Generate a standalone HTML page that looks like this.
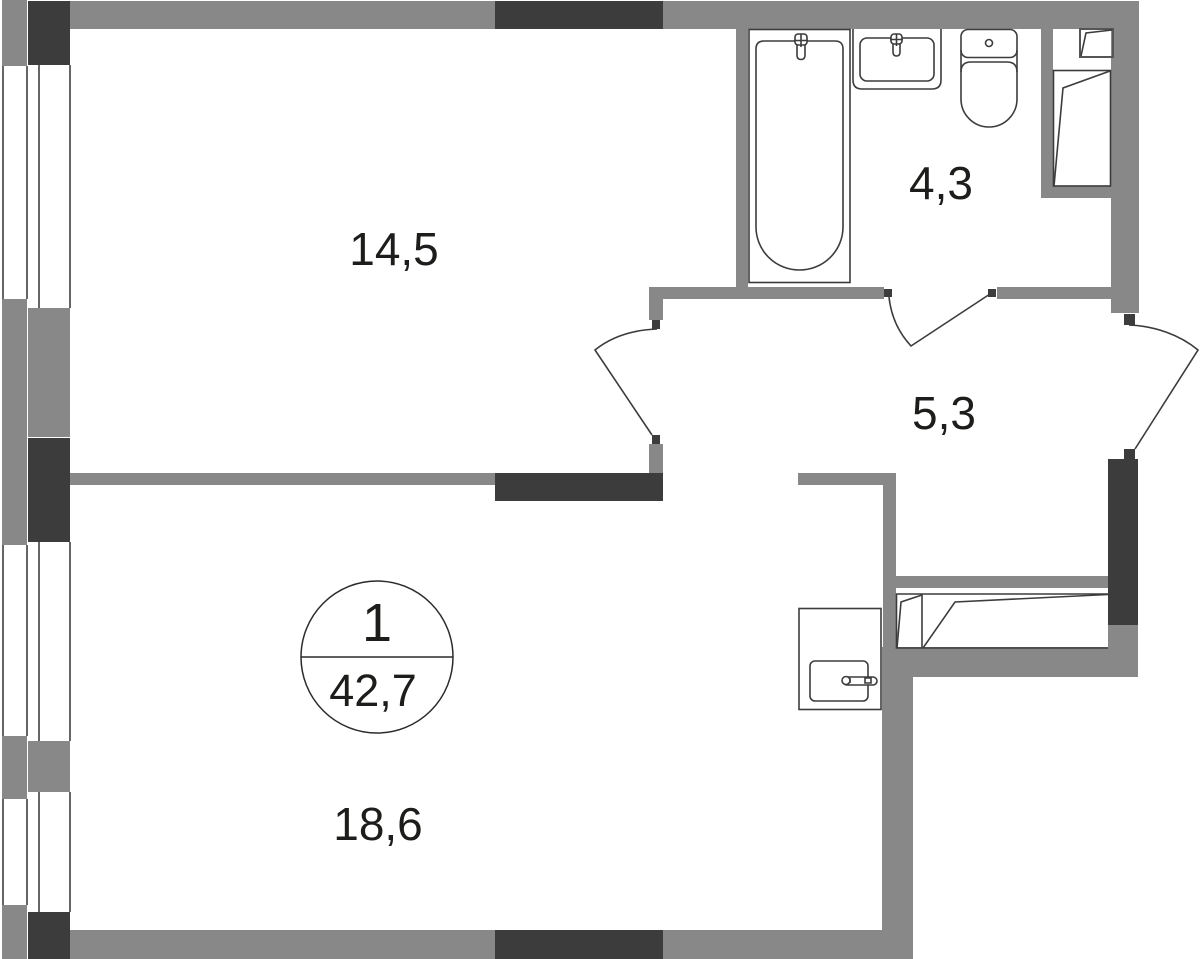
<!DOCTYPE html>
<html>
<head>
<meta charset="utf-8">
<style>
html,body{margin:0;padding:0;background:#fff;width:1200px;height:959px;overflow:hidden}
svg{display:block}
.g{fill:#888}
.d{fill:#3c3c3c}
.l{fill:none;stroke:#3c3c3c;stroke-width:1.6}
.w{fill:none;stroke:#666;stroke-width:2}
text{font-family:"Liberation Sans",sans-serif;fill:#1d1d1b}
</style>
</head>
<body>
<svg width="1200" height="959" viewBox="0 0 1200 959" xmlns="http://www.w3.org/2000/svg">
<rect width="1200" height="959" fill="#fff"/>

<!-- window lines -->
<path class="w" d="M3 66V299M3 545V736M3 799V905M27 66V299M27 545V736M27 799V905M39 65V308M39 542V741M39 792V912M70 65V308M70 542V741M70 792V912"/>

<!-- left column -->
<rect class="g" x="2" y="0" width="25" height="66"/>
<rect class="d" x="28" y="1" width="42" height="64"/>
<rect class="g" x="2" y="299" width="25" height="246"/>
<rect class="g" x="28" y="308" width="42" height="129"/>
<rect class="d" x="28" y="438" width="42" height="104"/>
<rect class="g" x="2" y="736" width="25" height="63"/>
<rect class="g" x="28" y="741" width="42" height="51"/>
<rect class="g" x="2" y="905" width="25" height="54"/>
<rect class="d" x="28" y="912" width="42" height="47"/>

<!-- top wall -->
<rect class="g" x="70" y="1" width="1069" height="28"/>
<rect class="d" x="495" y="1" width="168" height="28"/>

<!-- bottom wall -->
<rect class="g" x="70" y="930" width="843" height="29"/>
<rect class="d" x="495" y="930" width="168" height="29"/>

<!-- middle wall -->
<rect class="g" x="70" y="473" width="425" height="12"/>
<rect class="d" x="495" y="473" width="168" height="28"/>
<rect class="g" x="649" y="444" width="14" height="29"/>
<rect class="d" x="652" y="435" width="8" height="9"/>

<!-- right lower walls -->
<rect class="g" x="882" y="647" width="31" height="283"/>
<rect class="g" x="882" y="647" width="256" height="30"/>
<rect class="g" x="1108" y="625" width="30" height="52"/>
<rect class="d" x="1108" y="459" width="30" height="166"/>
<rect class="d" x="1124" y="449" width="11" height="10"/>
<rect class="g" x="883" y="473" width="13" height="174"/>
<rect class="g" x="798" y="473" width="98" height="12"/>
<rect class="g" x="896" y="576" width="212" height="12"/>

<!-- upper walls -->
<rect class="g" x="736" y="29" width="12" height="258"/>
<rect class="g" x="649" y="287" width="235" height="12"/>
<rect class="g" x="649" y="287" width="14" height="33"/>
<rect class="d" x="652" y="320" width="8" height="9"/>
<rect class="d" x="884" y="289" width="8" height="8"/>
<rect class="d" x="988" y="289" width="8" height="8"/>
<rect class="g" x="997" y="287" width="114" height="12"/>
<rect class="g" x="1111" y="1" width="28" height="312"/>
<rect class="d" x="1124" y="314" width="11" height="11"/>
<rect class="g" x="1041" y="29" width="12" height="169"/>
<rect class="g" x="1041" y="186" width="70" height="12"/>

<!-- doors -->
<path class="l" d="M657 329C632 330 611 337 595 350L652 435"/>
<path class="l" d="M1129 325C1155 326 1180 335 1198 350L1135 449"/>
<path class="l" d="M889 297C891 316 898 332 911 346L990 294"/>

<!-- bath -->
<rect class="l" x="749" y="29.500" width="101" height="253"/>
<path class="l" d="M764 41H835Q843 41 843 49V227A43.500 43 0 0 1 756 227V49Q756 41 764 41Z"/>
<path d="M797 43V55Q797 59.500 801 59.500Q805 59.500 805 55V43" fill="#fff" stroke="#3c3c3c" stroke-width="1.600"/>
<rect x="795" y="34" width="12" height="11" rx="3" fill="#fff" stroke="#3c3c3c" stroke-width="1.600"/>
<path d="M794 40.500H808M801 34V47" fill="none" stroke="#3c3c3c" stroke-width="1.600"/>

<!-- sink -->
<path class="l" d="M853 29V80Q853 89 862 89H932Q941 89 941 80V29"/>
<rect class="l" x="860" y="38" width="74" height="43" rx="7"/>
<path d="M893 43V52Q893 56 896.500 56Q900 56 900 52V43" fill="#fff" stroke="#3c3c3c" stroke-width="1.600"/>
<rect x="891" y="34" width="11" height="10" rx="3" fill="#fff" stroke="#3c3c3c" stroke-width="1.600"/>
<path d="M890 39.500H903M896.500 34V46" fill="none" stroke="#3c3c3c" stroke-width="1.600"/>

<!-- toilet -->
<rect class="l" x="961" y="29.500" width="56" height="28" rx="7"/>
<circle class="l" cx="989" cy="43" r="3.500"/>
<path class="l" d="M971 62H1007Q1017 62 1017 72V99A28 28 0 0 1 961 99V72Q961 62 971 62Z"/>
<path class="l" d="M961 50V72M1017 50V72"/>

<!-- shafts -->
<rect class="l" x="1053.500" y="70.500" width="57" height="115.500"/>
<path class="l" d="M1054 186L1063 88L1110 71"/>
<rect x="1080" y="29" width="33" height="28" fill="none" stroke="#555" stroke-width="2"/>
<path class="l" d="M1081 56L1086 33L1112 30"/>

<!-- closet -->
<path class="l" d="M1108 594H896.500V648H1108"/>
<path class="l" d="M922 594V648"/>
<path class="l" d="M897 648L901 602L922 595"/>
<path class="l" d="M923 648L955 602L1108 594.500"/>

<!-- kitchen sink -->
<rect class="l" x="799" y="608.500" width="82" height="101"/>
<rect class="l" x="810" y="661" width="58" height="40" rx="5"/>
<rect x="843" y="677" width="34" height="8" rx="4" fill="#fff" stroke="#3c3c3c" stroke-width="1.600"/>
<circle cx="846" cy="680.500" r="4" fill="#fff" stroke="#3c3c3c" stroke-width="1.600"/>
<path d="M850 678V683M865 678H871V683H865Z" fill="none" stroke="#3c3c3c" stroke-width="1.600"/>

<!-- badge -->
<circle cx="377" cy="657" r="76" fill="#fff" stroke="#2b2b2b" stroke-width="1.500"/>
<path d="M301 657H453" stroke="#2b2b2b" stroke-width="1.500"/>

<!-- text -->
<text x="394" y="265" font-size="46" text-anchor="middle">14,5</text>
<text x="941" y="199" font-size="46" text-anchor="middle">4,3</text>
<text x="944" y="429" font-size="46" text-anchor="middle">5,3</text>
<text x="378" y="840" font-size="46" text-anchor="middle">18,6</text>
<text x="377" y="641" font-size="54" text-anchor="middle">1</text>
<text x="373" y="706" font-size="45" text-anchor="middle">42,7</text>
</svg>
</body>
</html>
